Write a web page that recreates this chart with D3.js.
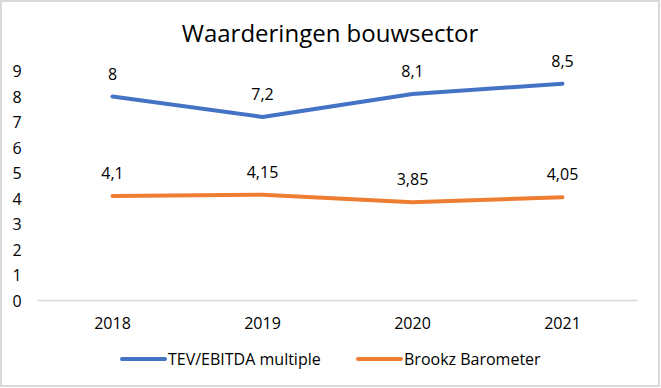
<!DOCTYPE html>
<html>
<head>
<meta charset="utf-8">
<script src="https://cdn.jsdelivr.net/npm/d3@7"></script>
<style>
  body { margin: 0; background: #fff; }
  text { font-family: "Open Sans", "Noto Sans", sans-serif; fill: #000; }
</style>
</head>
<body>
<script>
const years = ['2018', '2019', '2020', '2021']
const tevEbitda = [8, 7.2, 8.1, 8.5]
const brookz = [4.1, 4.15, 3.85, 4.05]
const yTicks = [0, 1, 2, 3, 4, 5, 6, 7, 8, 9]

const series = [
  { name: 'TEV/EBITDA multiple', values: tevEbitda, color: '#4472c4' },
  { name: 'Brookz Barometer', values: brookz, color: '#ed7d31' }
]

const width = 661
const height = 388

const svg = d3.select('body')
  .append('svg')
    .attr('width', width)
    .attr('height', height)

// frame
svg.append('rect')
  .attr('x', 1).attr('y', 1)
  .attr('width', 658).attr('height', 385)
  .attr('fill', '#fff')
  .attr('stroke', '#d9d9d9')
  .attr('stroke-width', 2)

const x = d3.scaleBand().domain(years).range([37.5, 637.5])
const y = d3.scaleLinear().domain([0, 9]).range([300.5, 71])

svg.append('text')
  .attr('x', 330).attr('y', 42)
  .attr('text-anchor', 'middle')
  .style('font-size', '24px')
  .text('Waarderingen bouwsector')

// y tick labels
svg.selectAll('text.ytick')
  .data(yTicks)
  .enter()
    .append('text')
    .attr('class', 'ytick')
    .attr('x', 17)
    .attr('y', (d) => y(d) + 6)
    .attr('text-anchor', 'middle')
    .style('font-size', '16px')
    .text((d) => d)

// x axis line
svg.append('line')
  .attr('x1', 37.5).attr('x2', 637.5)
  .attr('y1', 300.5).attr('y2', 300.5)
  .attr('stroke', '#d9d9d9')
  .attr('stroke-width', 1.5)

svg.selectAll('text.xtick')
  .data(years)
  .enter()
    .append('text')
    .attr('class', 'xtick')
    .attr('x', (d) => x(d) + x.bandwidth() / 2)
    .attr('y', 329)
    .attr('text-anchor', 'middle')
    .style('font-size', '16px')
    .text((d) => d)

const line = d3.line()
  .x((d, i) => x(years[i]) + x.bandwidth() / 2)
  .y((d) => y(d))

series.forEach((s) => {
  svg.append('path')
    .datum(s.values)
    .attr('d', line)
    .attr('fill', 'none')
    .attr('stroke', s.color)
    .attr('stroke-width', 4)
    .attr('stroke-linecap', 'round')
    .attr('stroke-linejoin', 'round')

  svg.selectAll(null)
    .data(s.values)
    .enter()
      .append('text')
      .attr('x', (d, i) => x(years[i]) + x.bandwidth() / 2)
      .attr('y', (d) => y(d) - 17)
      .attr('text-anchor', 'middle')
      .style('font-size', '16px')
      .text((d) => String(d).replace('.', ','))
})

// legend
const legendX = [122, 358]
series.forEach((s, i) => {
  svg.append('line')
    .attr('x1', legendX[i]).attr('x2', legendX[i] + 43)
    .attr('y1', 359).attr('y2', 359)
    .attr('stroke', s.color)
    .attr('stroke-width', 4)
    .attr('stroke-linecap', 'round')
  svg.append('text')
    .attr('x', legendX[i] + 46)
    .attr('y', 365)
    .style('font-size', '16px')
    .text(s.name)
})
</script>
</body>
</html>
